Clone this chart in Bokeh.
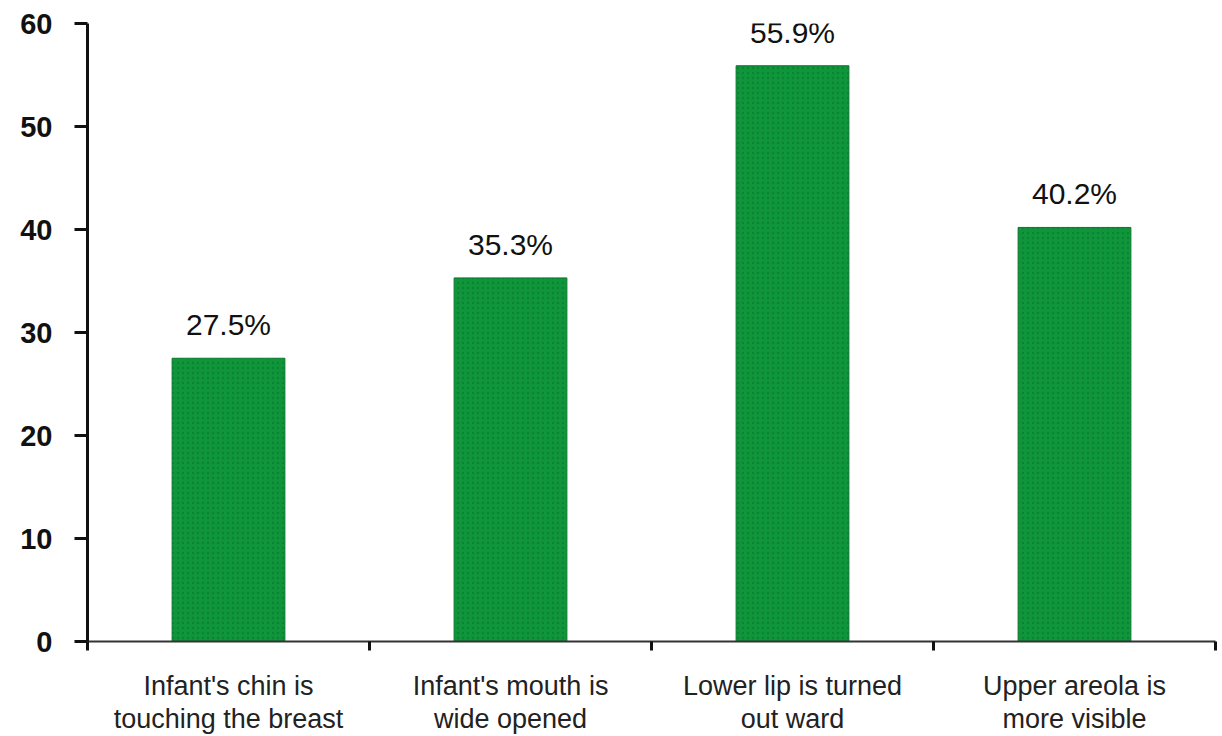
from bokeh.plotting import figure
from bokeh.models import ColumnDataSource, FixedTicker, Range1d, LabelSet, Label
from bokeh.core.properties import value
from bokeh.embed import file_html
from bokeh.resources import INLINE

categories = ["Infant's chin is\ntouching the breast",
              "Infant's mouth is\nwide opened",
              "Lower lip is turned\nout ward",
              "Upper areola is\nmore visible"]
values = [27.5, 35.3, 55.9, 40.2]
value_labels = ["27.5%", "35.3%", "55.9%", "40.2%"]
y_ticks = [0, 10, 20, 30, 40, 50, 60]

n = len(categories)
xs = [i + 0.5 for i in range(n)]
src = ColumnDataSource(dict(x=xs, top=values, lab=value_labels))

p = figure(width=1222, height=736, output_backend="svg", toolbar_location=None,
           x_range=Range1d(0, n), y_range=Range1d(0, 60),
           min_border_left=87, min_border_right=7, min_border_top=23, min_border_bottom=94)
p.border_fill_color = "white"
p.background_fill_color = "white"
p.outline_line_color = None
p.grid.visible = False

p.vbar(x="x", top="top", width=0.4, source=src,
       fill_color="#0f963a", line_color="#0b7a2e", line_width=1,
       hatch_pattern="dot", hatch_color="#0a5c30", hatch_alpha=0.35, hatch_scale=5)

labels = LabelSet(x="x", y="top", text="lab", source=src, text_align="center",
                  text_baseline="bottom", y_offset=17, text_font=value("Liberation Sans"),
                  text_font_size=value("30px"), text_color="#111111")
p.add_layout(labels)

# y axis
ya = p.yaxis[0]
ya.ticker = FixedTicker(ticks=y_ticks)
ya.major_tick_out = 13
ya.major_tick_in = 0
ya.minor_tick_out = 0
ya.minor_tick_in = 0
ya.axis_line_width = 3
ya.major_tick_line_width = 3
ya.axis_line_color = "#111111"
ya.major_tick_line_color = "#111111"
ya.major_label_text_font = "Liberation Sans"
ya.major_label_text_font_style = "bold"
ya.major_label_text_font_size = "29px"
ya.major_label_text_color = "#111111"
ya.major_label_standoff = 22

# x axis
xa = p.xaxis[0]
xa.ticker = FixedTicker(ticks=xs, minor_ticks=list(range(n + 1)))
xa.major_label_overrides = {x: c for x, c in zip(xs, categories)}
xa.major_tick_out = 0
xa.major_tick_in = 0
xa.minor_tick_out = 9
xa.minor_tick_in = 0
xa.minor_tick_line_width = 3
xa.minor_tick_line_color = "#111111"
xa.axis_line_width = 2
xa.axis_line_color = "#333333"
xa.major_label_text_font = "Liberation Sans"
xa.major_label_text_font_size = "27px"
xa.major_label_text_color = "#222222"
xa.major_label_text_line_height = 1.1
xa.major_label_standoff = 20

p.add_layout(Label(x=0, y=60, x_offset=-74, y_offset=21,
                   text="( % )", text_font="Liberation Sans", text_font_size="29px",
                   text_color="#222222", text_baseline="bottom"))

open("out.html", "w").write(file_html(p, INLINE))
